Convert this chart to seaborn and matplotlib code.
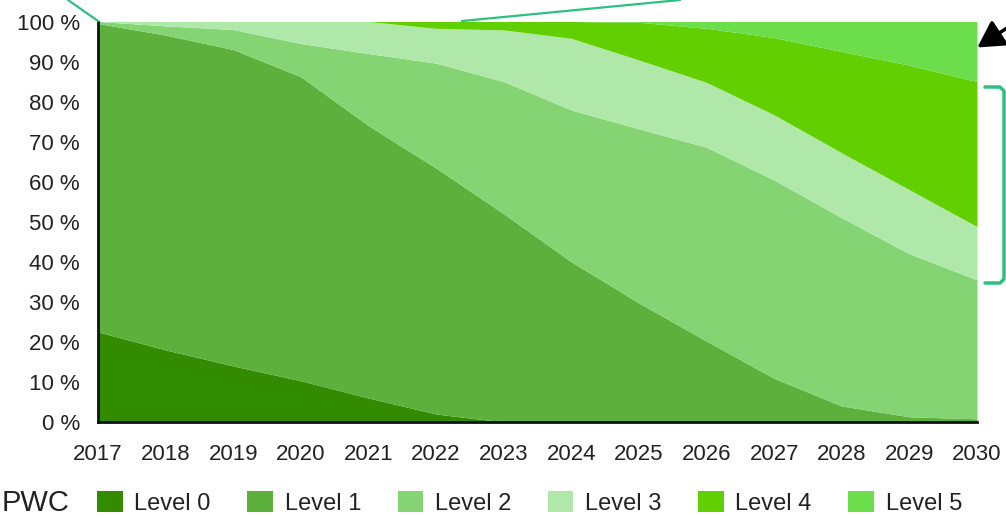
import numpy as np
import matplotlib
matplotlib.use("Agg")
import matplotlib.pyplot as plt
from matplotlib.lines import Line2D
from matplotlib.patches import FancyArrowPatch
import seaborn as sns

# ---- data (share of vehicles per automation level, %) ----
years = [2017, 2018, 2019, 2020, 2021, 2022, 2023, 2024, 2025, 2026, 2027, 2028, 2029, 2030]
level0 = [22.5, 18.0, 14.0, 10.3, 6.0, 2.0, 0.0, 0.0, 0.0, 0.0, 0.0, 0.0, 0.0, 0.0]
level1 = [77.0, 78.6, 79.0, 75.9, 68.0, 61.4, 52.0, 40.0, 29.7, 20.2, 10.9, 4.0, 1.3, 0.8]
level2 = [0.5, 2.3, 5.0, 8.3, 18.0, 26.2, 33.0, 37.9, 43.5, 48.4, 49.5, 47.0, 40.7, 34.7]
level3 = [0.0, 1.1, 2.0, 5.5, 8.0, 8.7, 12.9, 17.9, 17.2, 16.2, 16.3, 16.2, 16.0, 13.3]
level4 = [0.0, 0.0, 0.0, 0.0, 0.0, 1.7, 2.1, 4.2, 9.4, 13.5, 19.3, 25.3, 31.1, 36.2]
level5 = [0.0, 0.0, 0.0, 0.0, 0.0, 0.0, 0.0, 0.0, 0.2, 1.7, 4.0, 7.5, 10.9, 15.0]
level_names = ["Level 0", "Level 1", "Level 2", "Level 3", "Level 4", "Level 5"]
y_tick_values = [0, 10, 20, 30, 40, 50, 60, 70, 80, 90, 100]
y_tick_labels = [f"{v} %" for v in y_tick_values]
source_label = "PWC"

colors = sns.color_palette(["#338c00", "#5db03c", "#84d474", "#b0e8a9", "#62cf00", "#6cdd4b"])

sns.set_theme(style="white")
plt.rcParams["font.family"] = ["Liberation Sans", "DejaVu Sans"]

W, H = 1006, 516
fig = plt.figure(figsize=(W / 100, H / 100), dpi=100)
ax = fig.add_axes([98 / W, 1 - 422 / H, (977 - 98) / W, (422 - 21.5) / H])

ax.stackplot(years, level0, level1, level2, level3, level4, level5,
             colors=colors, labels=level_names, linewidth=0)

ax.set_xlim(years[0], years[-1])
ax.set_ylim(0, 100)
for s in ["top", "right"]:
    ax.spines[s].set_visible(False)
for s in ["left", "bottom"]:
    ax.spines[s].set_color("#111111")
    ax.spines[s].set_linewidth(2)

ax.set_xticks(years)
ax.set_xticklabels([str(y) for y in years])
ax.tick_params(axis="x", direction="in", length=7, width=1.6, color="#111111",
               labelsize=16, pad=16, labelcolor="#222222")

ax.set_yticks(y_tick_values)
ax.set_yticklabels(y_tick_labels)
ax.tick_params(axis="y", which="major", length=0, labelsize=16, pad=13, labelcolor="#222222")
ax.set_yticks(np.arange(12) * 100 / 11, minor=True)
ax.tick_params(axis="y", which="minor", direction="in", length=7, width=2.2, color="#111111", left=True)

# legend
handles, labels = ax.get_legend_handles_labels()
fig.legend(handles, labels, loc="center left", bbox_to_anchor=(97 / W, 1 - 503 / H),
           ncol=6, frameon=False, fontsize=17, handlelength=1.08, handleheight=0.95,
           handletextpad=0.5, columnspacing=1.55, borderpad=0, borderaxespad=0,
           labelcolor="#222222")
fig.text(2 / W, 1 - 503 / H, source_label, fontsize=21, color="#222222",
         ha="left", va="center")

# decorations (annotation leaders from the original slide)
def px(x, y):
    return (x / W, 1 - y / H)

teal = "#2fbf80"
for (x0, y0), (x1, y1) in [((68, 0), (98, 21)), ((462, 21), (680, 0))]:
    a, b = px(x0, y0), px(x1, y1)
    fig.add_artist(Line2D([a[0], b[0]], [a[1], b[1]], color=teal, lw=1.6,
                          transform=fig.transFigure))

bx = [985, 1000, 1004, 1004, 1000, 985]
by = [87, 87, 91, 279, 283, 283]
pts = [px(x, y) for x, y in zip(bx, by)]
fig.add_artist(Line2D([p[0] for p in pts], [p[1] for p in pts], color=teal, lw=2.5,
                      transform=fig.transFigure, solid_joinstyle="round"))

arrow = FancyArrowPatch(px(1010, 26), px(975, 49), transform=fig.transFigure,
                        arrowstyle="-|>,head_length=8,head_width=4.5", color="black",
                        lw=2.5, mutation_scale=2)
fig.add_artist(arrow)

fig.savefig("out.png", dpi=100)
